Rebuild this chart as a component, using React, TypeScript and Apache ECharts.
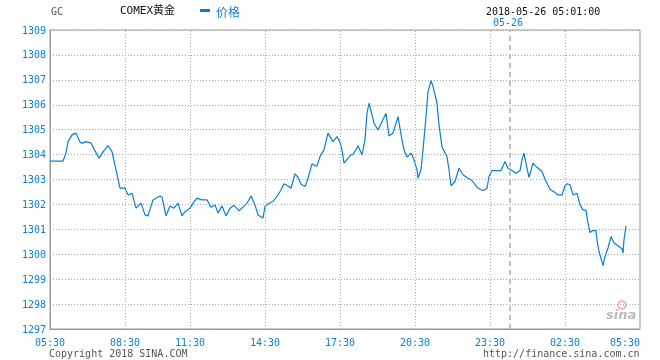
import React, { useEffect, useRef } from "react";
import * as echarts from "echarts";

// time slots (x) and prices (y)
const slots = [0, 13, 16, 18, 22, 26, 30, 32, 36, 41, 44, 49, 54, 58, 62, 66, 70, 75, 78, 82, 86, 91, 95, 98, 103, 110, 112, 116, 120, 124, 128, 132, 135, 140, 143, 147, 152, 157, 161, 165, 168, 172, 176, 180, 184, 189, 193, 197, 201, 205, 208, 213, 215, 218, 223, 227, 231, 234, 239, 241, 245, 248, 251, 255, 257, 262, 265, 267, 270, 274, 278, 283, 287, 290, 292, 294, 298, 301, 303, 308, 312, 315, 317, 319, 322, 324, 328, 332, 336, 339, 343, 348, 352, 354, 357, 361, 364, 367, 368, 371, 373, 376, 378, 381, 383, 387, 389, 392, 397, 399, 401, 405, 409, 413, 418, 422, 427, 430, 433, 437, 439, 442, 451, 455, 458, 462, 466, 470, 472, 474, 477, 479, 481, 483, 487, 492, 495, 500, 505, 508, 512, 515, 517, 520, 523, 527, 530, 533, 536, 538, 540, 543, 546, 547, 549, 553, 555, 558, 561, 564, 568, 572, 573, 574, 576];
const prices = [1303.74, 1303.74, 1304.07, 1304.52, 1304.79, 1304.86, 1304.5, 1304.46, 1304.52, 1304.46, 1304.22, 1303.86, 1304.16, 1304.36, 1304.12, 1303.39, 1302.65, 1302.65, 1302.38, 1302.45, 1301.85, 1302.05, 1301.58, 1301.54, 1302.18, 1302.34, 1302.29, 1301.54, 1301.94, 1301.85, 1302.05, 1301.54, 1301.71, 1301.85, 1302.05, 1302.25, 1302.18, 1302.18, 1301.89, 1301.98, 1301.65, 1301.94, 1301.54, 1301.85, 1301.96, 1301.74, 1301.89, 1302.05, 1302.34, 1301.98, 1301.58, 1301.45, 1301.92, 1302.02, 1302.12, 1302.32, 1302.58, 1302.83, 1302.72, 1302.65, 1303.23, 1303.09, 1302.81, 1302.72, 1302.92, 1303.63, 1303.55, 1303.55, 1303.92, 1304.19, 1304.86, 1304.52, 1304.72, 1304.5, 1304.19, 1303.66, 1303.86, 1303.99, 1303.99, 1304.35, 1303.99, 1304.59, 1305.66, 1306.06, 1305.59, 1305.26, 1304.99, 1305.32, 1305.66, 1304.75, 1304.86, 1305.52, 1304.59, 1304.19, 1303.9, 1304.06, 1303.79, 1303.39, 1303.05, 1303.39, 1304.19, 1305.52, 1306.53, 1306.97, 1306.73, 1306.06, 1305.19, 1304.3, 1303.92, 1303.39, 1302.75, 1302.92, 1303.45, 1303.19, 1303.05, 1302.96, 1302.69, 1302.61, 1302.56, 1302.65, 1303.12, 1303.36, 1303.36, 1303.72, 1303.45, 1303.36, 1303.25, 1303.36, 1303.79, 1304.06, 1303.45, 1303.09, 1303.36, 1303.66, 1303.49, 1303.32, 1303.01, 1302.61, 1302.48, 1302.38, 1302.38, 1302.75, 1302.83, 1302.79, 1302.38, 1302.45, 1301.98, 1301.78, 1301.76, 1301.25, 1300.87, 1300.95, 1300.95, 1300.58, 1300.11, 1299.54, 1299.91, 1300.25, 1300.71, 1300.45, 1300.34, 1300.21, 1300.05, 1300.58, 1301.15];

const tickSlots = [0, 75, 140, 215, 290, 365, 440, 515, 590];
const tickLabels = ["05:30", "08:30", "11:30", "14:30", "17:30", "20:30", "23:30", "02:30", "05:30"];
const dateSlot = 460;
const yMin = 1297;
const yMax = 1309;

const MONO = "'DejaVu Sans Mono', monospace";
const CJK = "'DejaVu Sans Mono', 'Noto Sans CJK SC', sans-serif";
const BLUE = "#0a7fd2";

export default function App() {
  const ref = useRef<HTMLDivElement>(null);
  useEffect(() => {
    if (!ref.current) return;
    const chart = echarts.init(ref.current, null, { renderer: "svg" });
    const data = slots.map((s, i) => [s, prices[i]]);
    const vLines: any[] = tickSlots.slice(1, -1).map((v) => ({ xAxis: v }));
    vLines.push({
      xAxis: dateSlot,
      lineStyle: { type: [5, 4], color: "#aaa", width: 1.5 },
    });
    chart.setOption({
      animation: false,
      grid: {
        left: 50,
        right: 20,
        top: 30,
        bottom: 31,
        show: true,
        borderColor: "#999",
        borderWidth: 1,
        backgroundColor: "#fff",
      },
      xAxis: {
        type: "value",
        min: 0,
        max: 590,
        axisLine: { show: true, lineStyle: { color: "#999" } },
        axisTick: { show: false },
        splitLine: { show: false },
        axisLabel: {
          customValues: tickSlots,
          formatter: (v: number) => {
            const i = tickSlots.indexOf(v);
            return i >= 0 ? tickLabels[i] : "";
          },
          color: BLUE,
          fontFamily: MONO,
          fontSize: 10,
          lineHeight: 10,
          margin: 8,
          alignMaxLabel: "right",
        },
      },
      yAxis: {
        type: "value",
        min: yMin,
        max: yMax,
        interval: 1,
        axisLine: { show: true, lineStyle: { color: "#999" } },
        axisTick: { show: false },
        splitLine: { show: true, lineStyle: { type: [1, 2], color: "#a8a8a8", width: 1 } },
        axisLabel: {
          color: BLUE,
          fontFamily: MONO,
          fontSize: 10,
          margin: 4,
          formatter: (v: number) => String(v),
        },
      },
      series: [
        {
          type: "line",
          data,
          symbol: "none",
          lineStyle: { color: BLUE, width: 1.2 },
          markLine: {
            silent: true,
            symbol: ["none", "none"],
            label: { show: false },
            lineStyle: { type: [1, 2], color: "#a8a8a8", width: 1 },
            data: vLines,
          },
        },
      ],
      graphic: [
        { type: "text", left: 51, top: 6, style: { text: "GC", fill: "#555", font: `10px ${MONO}` } },
        { type: "text", left: 120, top: 5, style: { text: "COMEX黄金", fill: "#111", font: `11px ${CJK}` } },
        { type: "rect", shape: { x: 200, y: 9, width: 10, height: 3 }, style: { fill: BLUE } },
        { type: "text", left: 216, top: 5, style: { text: "价格", fill: BLUE, font: `12px 'Noto Sans CJK SC', sans-serif` } },
        { type: "text", left: 486, top: 6, style: { text: "2018-05-26 05:01:00", fill: "#111", font: `10px ${MONO}` } },
        { type: "text", left: 493, top: 17, style: { text: "05-26", fill: BLUE, font: `10px ${MONO}` } },
        { type: "text", left: 49, top: 348, style: { text: "Copyright 2018 SINA.COM", fill: "#555", font: `10px ${MONO}`, lineHeight: 10 } },
        { type: "text", left: 483, top: 348, style: { text: "http://finance.sina.com.cn", fill: "#555", font: `10px ${MONO}`, lineHeight: 10 } },
        { type: "circle", shape: { cx: 622, cy: 305, r: 4 }, style: { fill: "none", stroke: "#f4b6b6", lineWidth: 2 } },
        { type: "text", left: 606, top: 308, style: { text: "sina", fill: "#bbb", font: `italic bold 13px 'DejaVu Sans', sans-serif` } },
      ],
    });
    return () => chart.dispose();
  }, []);
  return (
    <div
      ref={ref}
      style={{ position: "fixed", left: 0, top: 0, width: 660, height: 360 }}
    />
  );
}
